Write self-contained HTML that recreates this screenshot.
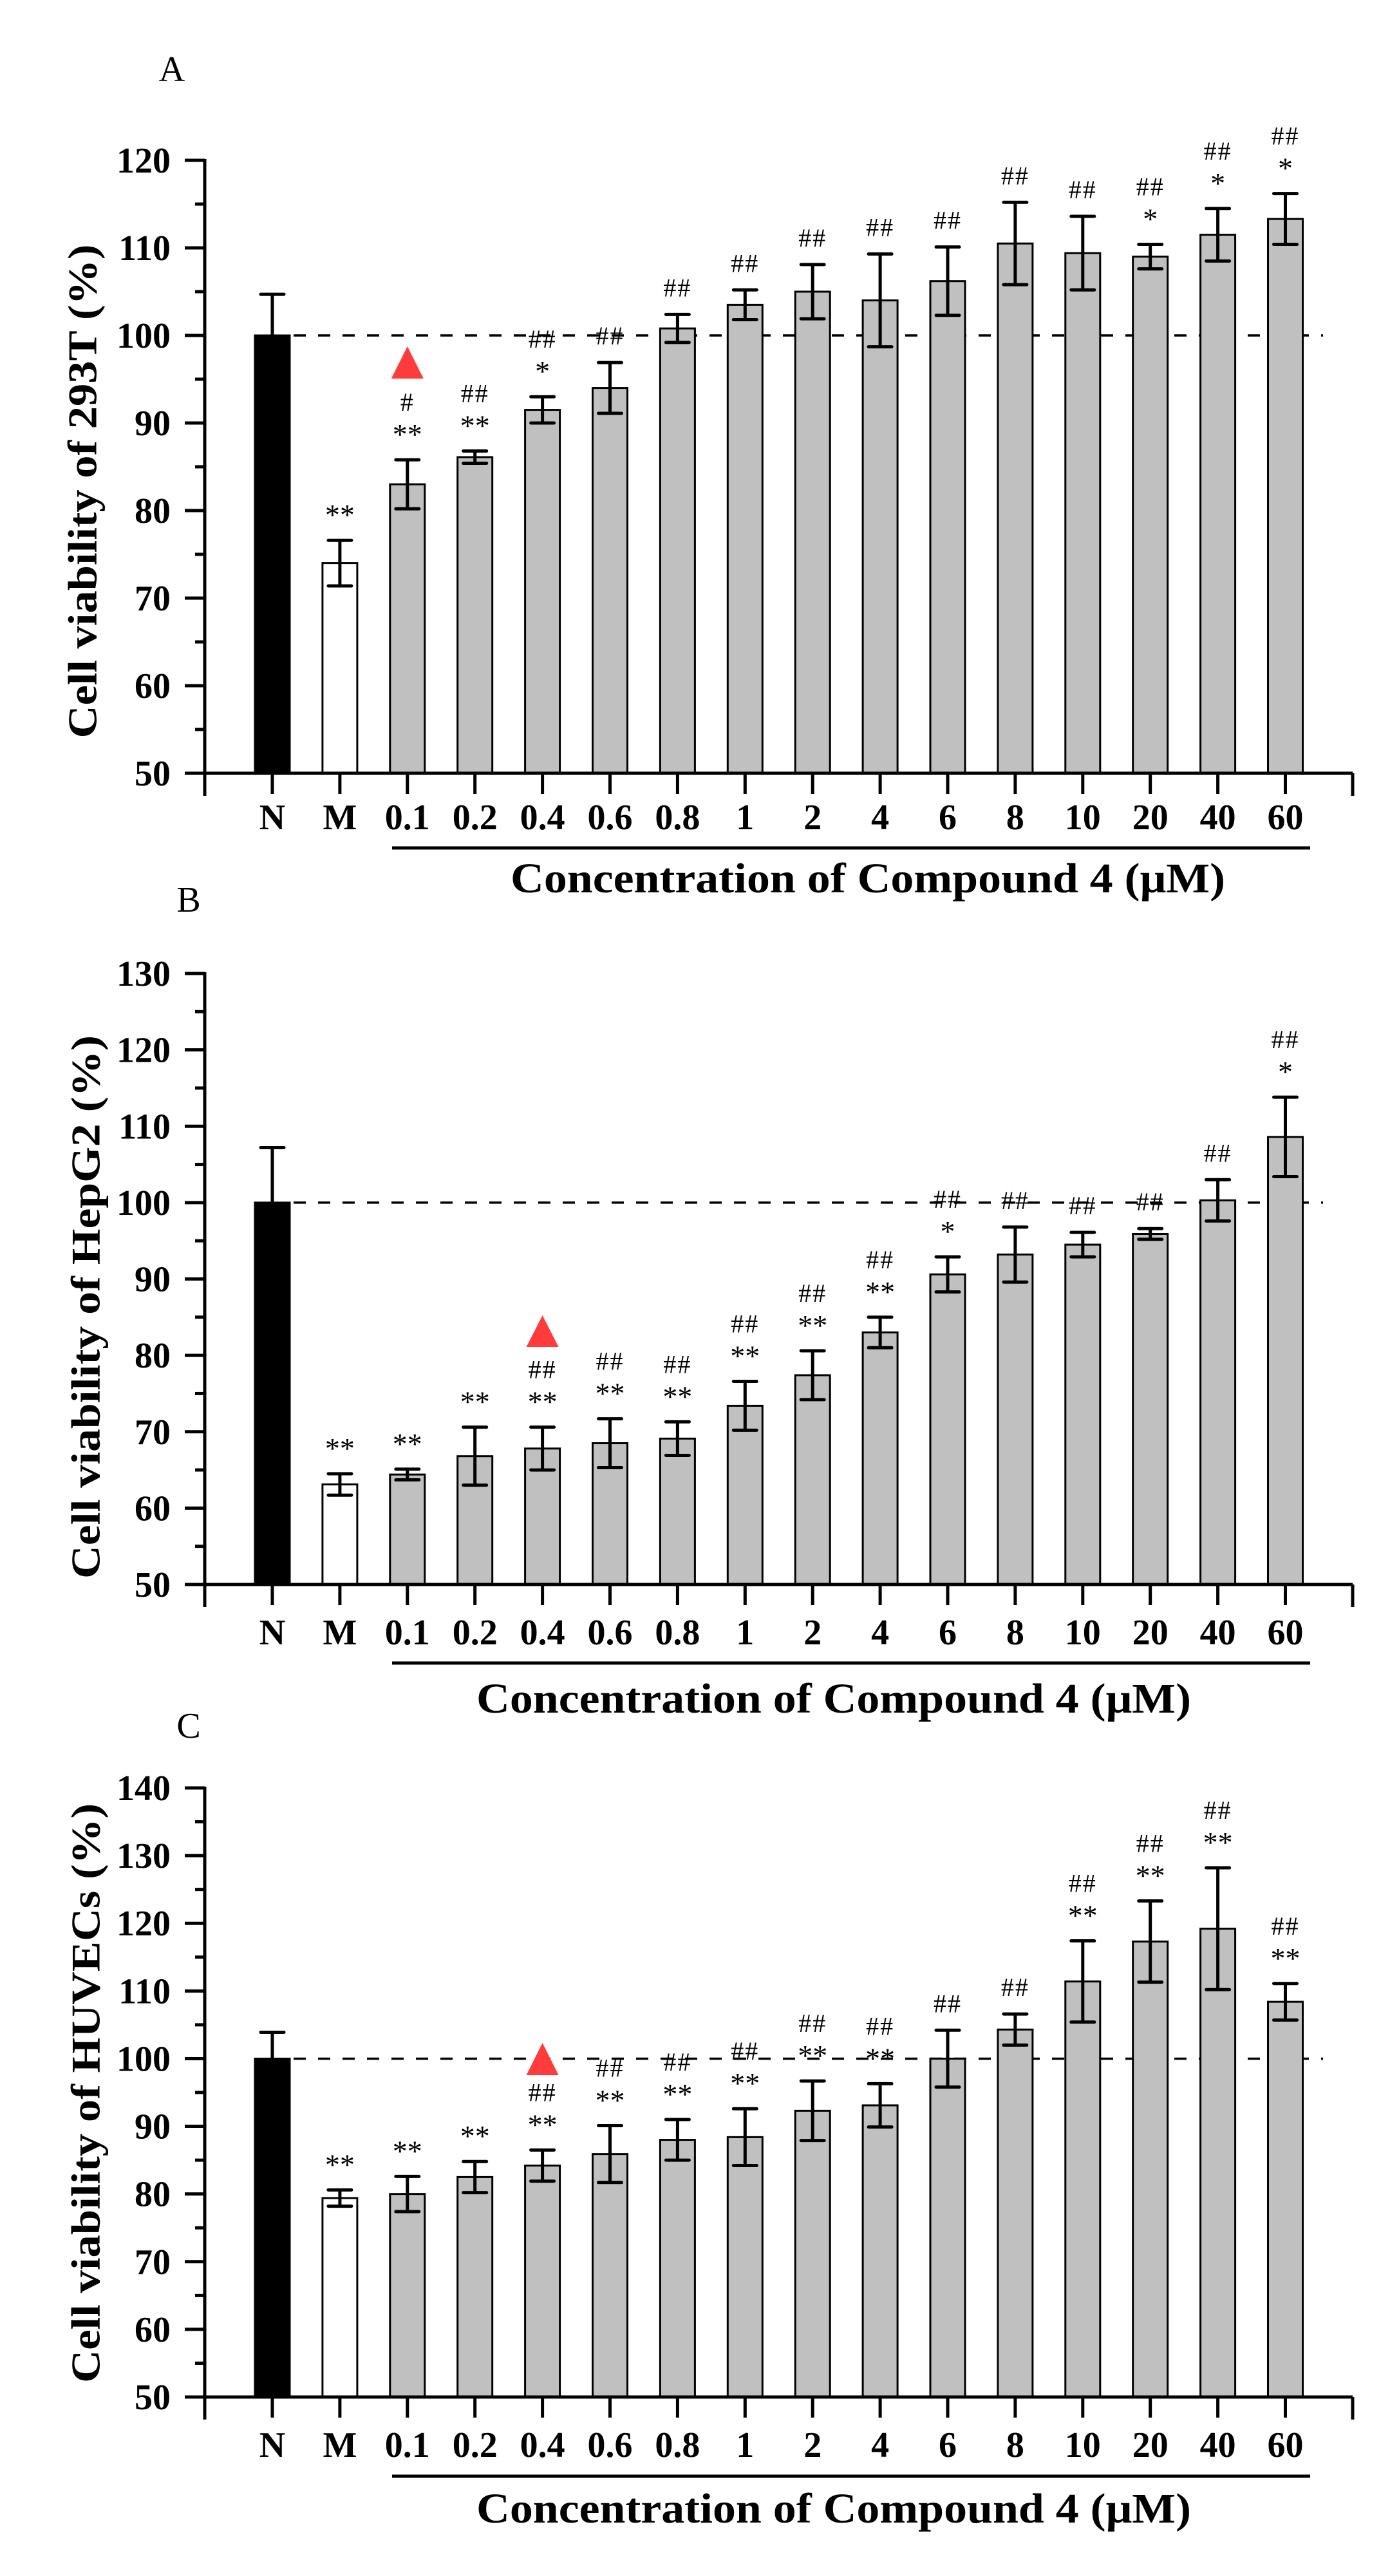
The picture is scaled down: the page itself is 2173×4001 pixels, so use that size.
<!DOCTYPE html>
<html><head><meta charset="utf-8"><style>
html,body{margin:0;padding:0;background:#fff;}
svg{display:block;}
text{font-family:"Liberation Serif",serif;}
</style></head><body>
<svg id="s" width="2173" height="4001" xmlns="http://www.w3.org/2000/svg"></svg>
<script>
const S=document.getElementById('s');let h='';
const labs=['N','M','0.1','0.2','0.4','0.6','0.8','1','2','4','6','8','10','20','40','60'];
const X0=318,X1=2101,C0=423,SP=104.9,BW=54;
const panels=[
{letter:'A',lx:267,ly:126,top:120,y120:249,ymin:50,ybot:1201,ylabel:'Cell viability of 293T (%)',ylc:763,ylen:767,tickBase:1288,ul:1317,conBase:1386,conX:1348,tri:[2,538,588],
 d:[[100,4.7],[74,2.6],[83,2.8],[86.1,0.7],[91.5,1.5],[94,2.9],[100.8,1.6],[103.5,1.7],[105,3.1],[104,5.3],[106.2,3.9],[110.5,4.7],[109.4,4.2],[109,1.4],[111.5,3],[113.3,2.9]],
 a:[null,['','**'],['#','**'],['##','**'],['##','*'],['##',''],['##',''],['##',''],['##',''],['##',''],['##',''],['##',''],['##',''],['##','*'],['##','*'],['##','*']]},
{letter:'B',lx:293,ly:1416,top:130,y120:1512,ymin:50,ybot:2461,ylabel:'Cell viability of HepG2 (%)',ylc:2030,ylen:844,tickBase:2554,ul:2583,conBase:2660,conX:1295,tri:[4,2043,2092],
 d:[[100,7.2],[63.1,1.4],[64.4,0.7],[66.8,3.8],[67.8,2.8],[68.5,3.2],[69.1,2.2],[73.4,3.2],[77.4,3.2],[83,2],[90.6,2.3],[93.2,3.6],[94.5,1.6],[95.9,0.7],[100.3,2.7],[108.6,5.2]],
 a:[null,['','**'],['','**'],['','**'],['##','**'],['##','**'],['##','**'],['##','**'],['##','**'],['##','**'],['##','*'],['##',''],['##',''],['##',''],['##',''],['##','*']]},
{letter:'C',lx:293,ly:2699,top:140,y120:2777,ymin:50,ybot:3723,ylabel:'Cell viability of HUVECs (%)',ylc:3251,ylen:900,tickBase:3816,ul:3846,conBase:3918,conX:1295,tri:[4,3173,3223],
 d:[[100,3.9],[79.4,1.2],[80,2.6],[82.5,2.3],[84.2,2.3],[85.9,4.2],[88,3],[88.4,4.2],[92.3,4.4],[93.1,3.2],[100,4.2],[104.3,2.3],[111.4,6],[117.3,6],[119.2,9],[108.4,2.7]],
 a:[null,['','**'],['','**'],['','**'],['##','**'],['##','**'],['##','**'],['##','**'],['##','**'],['##','**'],['##',''],['##',''],['##','**'],['##','**'],['##','**'],['##','**']]}
];
for(const p of panels){
 const ytop=p.y120, pu=(p.ybot-ytop)/(p.top-p.ymin);
 const Y=v=>p.ybot-(v-p.ymin)*pu;
 h+=`<text x="${p.lx}" y="${p.ly}" font-size="56" text-anchor="middle">${p.letter}</text>`;
 // y axis
 h+=`<line x1="${X0}" y1="${ytop-2}" x2="${X0}" y2="${p.ybot+35}" stroke="#000" stroke-width="5"/>`;
 for(let v=p.ymin;v<=p.top;v+=5){
  const maj=(v%10===0);const y=Y(v);
  h+=`<line x1="${X0-(maj?31:15)}" y1="${y}" x2="${X0}" y2="${y}" stroke="#000" stroke-width="5"/>`;
  if(maj)h+=`<text x="265" y="${y+19}" font-size="56" font-weight="bold" text-anchor="end">${v}</text>`;
 }
 h+=`<text transform="translate(${p.lx===267?128:133},${p.ylc}) rotate(-90)" font-size="64" font-weight="bold" text-anchor="middle" dominant-baseline="central" textLength="${p.ylen}" lengthAdjust="spacingAndGlyphs">${p.ylabel}</text>`;
 // dashed line
 h+=`<line x1="${C0+BW/2+6}" y1="${Y(100)}" x2="2055" y2="${Y(100)}" stroke="#000" stroke-width="3.5" stroke-dasharray="19,19"/>`;
 // bars
 p.d.forEach((b,i)=>{
  const cx=C0+SP*i, yv=Y(b[0]);
  const fill=i===0?'#000':(i===1?'#fff':'#c0c0c0');
  h+=`<rect x="${cx-BW/2}" y="${yv}" width="${BW}" height="${p.ybot-yv}" fill="${fill}" stroke="#000" stroke-width="3"/>`;
  const et=Y(b[0]+b[1]), eb=Y(b[0]-b[1]);
  if(i===0){h+=`<line x1="${cx}" y1="${et}" x2="${cx}" y2="${yv}" stroke="#000" stroke-width="5"/><line x1="${cx-18}" y1="${et}" x2="${cx+18}" y2="${et}" stroke="#000" stroke-width="5" stroke-linecap="round"/>`;}
  else{h+=`<line x1="${cx}" y1="${et}" x2="${cx}" y2="${eb}" stroke="#000" stroke-width="5"/><line x1="${cx-18}" y1="${et}" x2="${cx+18}" y2="${et}" stroke="#000" stroke-width="5" stroke-linecap="round"/><line x1="${cx-18}" y1="${eb}" x2="${cx+18}" y2="${eb}" stroke="#000" stroke-width="5" stroke-linecap="round"/>`;}
  const a=p.a[i];
  if(a){
   let c=et-48;
   if(a[1]){h+=`<text x="${cx}" y="${c+24}" font-size="46" text-anchor="middle">${a[1]}</text>`;c-=42;}
   else c=et-42;
   if(a[0])h+=`<text x="${cx}" y="${c+14}" font-size="40" text-anchor="middle" letter-spacing="2">${a[0]}</text>`;
  }
  // x tick + label
  h+=`<line x1="${cx}" y1="${p.ybot}" x2="${cx}" y2="${p.ybot+32}" stroke="#000" stroke-width="5"/>`;
  h+=`<text x="${cx}" y="${p.tickBase}" font-size="56" font-weight="bold" text-anchor="middle">${labs[i]}</text>`;
 });
 h+=`<line x1="${X0}" y1="${p.ybot}" x2="${X1}" y2="${p.ybot}" stroke="#000" stroke-width="5"/>`;
 h+=`<line x1="${X1}" y1="${p.ybot}" x2="${X1}" y2="${p.ybot+35}" stroke="#000" stroke-width="5"/>`;
 // triangle
 const t=p.tri, tx=C0+SP*t[0];
 h+=`<polygon points="${tx-25},${t[2]} ${tx+25},${t[2]} ${tx},${t[1]}" fill="#ff3b3b"/>`;
 h+=`<line x1="609" y1="${p.ul}" x2="2035" y2="${p.ul}" stroke="#000" stroke-width="5"/>`;
 h+=`<text x="${p.conX}" y="${p.conBase}" font-size="66" font-weight="bold" text-anchor="middle" textLength="1110" lengthAdjust="spacingAndGlyphs">Concentration of Compound 4 (μM)</text>`;
}
S.innerHTML=h;
</script>
</body></html>
